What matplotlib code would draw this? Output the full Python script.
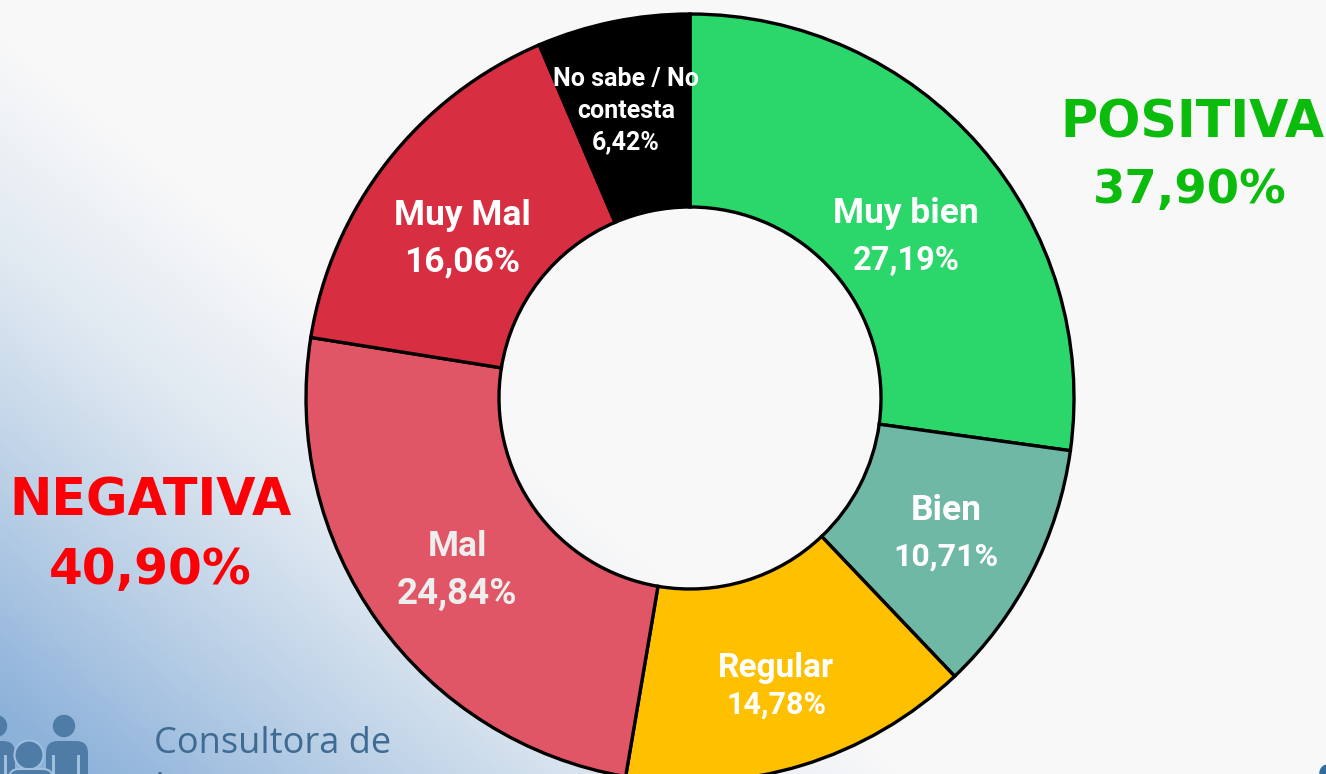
import numpy as np
import matplotlib
matplotlib.use("Agg")
import matplotlib.pyplot as plt
from matplotlib.patches import Circle, FancyBboxPatch, Rectangle
from matplotlib.colors import LinearSegmentedColormap

categories = ["Muy bien", "Bien", "Regular", "Mal", "Muy Mal"]
other_category = "No sabe / No\ncontesta"
values = [27.19, 10.71, 14.78, 24.84, 16.06, 6.42]
value_labels = ["27,19%", "10,71%", "14,78%", "24,84%", "16,06%"]
other_label = "6,42%"
colors = ["#2bd66a", "#70b8a6", "#ffc000", "#e05666", "#d82e42", "#000000"]
name_pos = [(906, 213), (946, 510), (776, 668), (457, 546), (462, 215)]
value_pos = [(906, 261), (946, 557), (776, 705), (457, 594), (462, 262)]
name_size = [25.5, 25.5, 24, 25.5, 25.5]
value_size = [23.5, 23, 22, 26.5, 25.5]

W, H = 1326, 774
fig = plt.figure(figsize=(W / 100, H / 100), dpi=100)
ax = fig.add_axes([0, 0, 1, 1])

# background
yy, xx = np.mgrid[0:1:200j, 0:1:300j]
d = np.clip((yy - 0.05 - 1.4 * xx) / 0.87, 0, 1)
cmap = LinearSegmentedColormap.from_list("bg", ["#f8f8f9", "#dfe8f1", "#b9cfe6", "#8db2da"])
ax.imshow(d, extent=(0, W, 0, H), origin="upper", cmap=cmap, aspect="auto", vmin=0, vmax=1, zorder=0)

cx, cy, R, r = 690, 774 - 398, 384, 191
ax.pie(values, colors=colors, startangle=90, counterclock=False, center=(cx, cy), radius=R,
       wedgeprops=dict(width=R - r, edgecolor="black", linewidth=2.4), frame=False)
ax.set_xlim(0, W)
ax.set_ylim(0, H)
ax.set_aspect("auto")
ax.axis("off")

font = "Roboto"
for i, c in enumerate(categories):
    col = "#eeeeee" if i == 3 else "white"
    ax.text(name_pos[i][0], H - name_pos[i][1], c, color=col, fontsize=name_size[i], family=font,
            weight="bold", ha="center", va="center")
    ax.text(value_pos[i][0], H - value_pos[i][1], value_labels[i], color=col, fontsize=value_size[i],
            family=font, weight="bold", ha="center", va="center")
ax.text(626, H - 110.5, other_category + "\n" + other_label, color="white", fontsize=18, family=font,
        weight="bold", ha="center", va="center", linespacing=1.4)

head = dict(family="DejaVu Sans", weight="bold", ha="center", va="center")
ax.text(1192, H - 123, "POSITIVA", color="#0cbc0c", fontsize=36.5, **head)
ax.text(1190, H - 190, "37,90%", color="#0cbc0c", fontsize=33.5, **head)
ax.text(151, H - 502, "NEGATIVA", color="#fb0006", fontsize=36.5, **head)
ax.text(150, H - 570, "40,90%", color="#fb0006", fontsize=35, **head)

# logo
logo = "#4f7ca6"
halo = "#9fbfdf"
def body(x0, x1, top, slits=()):
    ax.add_patch(FancyBboxPatch((x0, -40), x1 - x0, H - top + 40,
                                boxstyle="round,pad=0,rounding_size=12", fc=logo, ec=logo, lw=0, zorder=3))
    for s in slits:
        ax.add_patch(Rectangle((s - 1.5, 0), 3, H - 755, fc=halo, ec="none", zorder=4))

ax.add_patch(Circle((64, H - 726), 10.5, color=logo, zorder=3))
body(46, 88, 741, slits=(53, 78))
ax.add_patch(Circle((-4, H - 726), 10.5, color=logo, zorder=3))
body(-27, 15, 741, slits=(5,))
ax.add_patch(Circle((29, H - 755), 14.5, fc=logo, ec=halo, lw=1.5, zorder=5))
ax.add_patch(FancyBboxPatch((9, -40), 44, H - 769 + 40, boxstyle="round,pad=0,rounding_size=10",
                            fc=logo, ec=halo, lw=1.5, zorder=5))

ax.text(154, H - 744, "Consultora de", color="#3f6a92", fontsize=26, family="Open Sans", ha="left", va="center")
ax.text(154, H - 789, "Imagen", color="#3f6a92", fontsize=26, family="Open Sans", ha="left", va="center")
ax.add_patch(Circle((1328, H - 773), 8, color="#2f6c9e", zorder=3))

fig.savefig("out.png", dpi=100)
